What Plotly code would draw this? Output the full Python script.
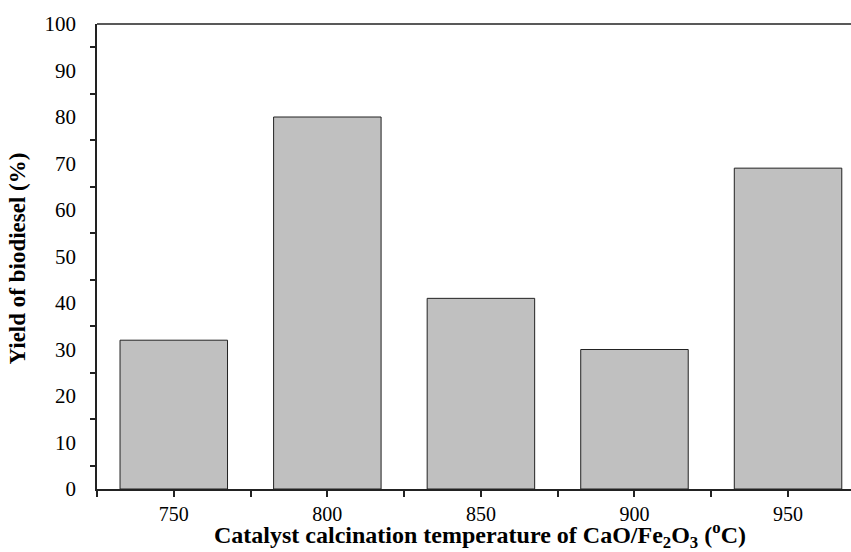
import plotly.graph_objects as go

temperatures = [750, 800, 850, 900, 950]
yields = [32, 80, 41, 30, 69]
x_tick_vals = [750, 800, 850, 900, 950]
y_tick_vals = [0, 10, 20, 30, 40, 50, 60, 70, 80, 90, 100]

font_family = "Liberation Serif"

fig = go.Figure()
fig.add_trace(go.Bar(
    x=temperatures, y=yields, width=35,
    marker=dict(color="#C0C0C0", line=dict(color="#222222", width=1)),
))

fig.update_layout(
    width=851, height=552,
    margin=dict(l=97, r=0, t=24, b=63),
    plot_bgcolor="white", paper_bgcolor="white",
    showlegend=False,
    font=dict(family=font_family, size=20, color="black"),
    xaxis=dict(
        range=[725, 970.5], tickvals=x_tick_vals,
        ticks="outside", ticklen=6, tickwidth=1.5, tickcolor="#222",
        showline=True, linecolor="#222", linewidth=1.5, mirror=False,
        showgrid=False, zeroline=False,
        minor=dict(dtick=25, tick0=725, ticks="outside", ticklen=6, tickwidth=1.5, tickcolor="#222"),
        tickfont=dict(size=20, family=font_family),
        ticklabelstandoff=0,
    ),
    yaxis=dict(
        range=[0, 100], tickvals=y_tick_vals,
        ticks="", showline=True, linecolor="#222", linewidth=1.5,
        showgrid=False, zeroline=False,
        minor=dict(tick0=5, dtick=10, ticks="outside", ticklen=5, tickwidth=1.5, tickcolor="#222"),
        tickfont=dict(size=21, family=font_family),
        ticklabelstandoff=15,
    ),
    shapes=[dict(type="line", xref="paper", yref="paper", x0=0, x1=1, y0=1, y1=1,
                 line=dict(color="#222", width=1.5))],
    annotations=[
        dict(text="<b>Catalyst calcination temperature of CaO/Fe<sub>2</sub>O<sub>3</sub> (<sup>o</sup>C)</b>",
             xref="paper", yref="paper", x=0.508, y=0, yshift=-46, xanchor="center", yanchor="middle",
             showarrow=False, font=dict(size=24, family=font_family)),
        dict(text="<b>Yield of biodiesel (%)</b>", textangle=-90,
             xref="paper", yref="paper", x=0, xshift=-80, y=0.5, yshift=-2,
             xanchor="center", yanchor="middle", showarrow=False,
             font=dict(size=23, family=font_family)),
    ],
)

fig.write_html("out.html")
